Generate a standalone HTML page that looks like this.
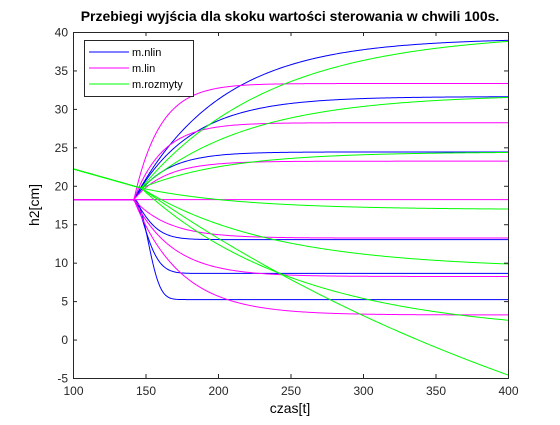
<!DOCTYPE html>
<html><head><meta charset="utf-8"><style>
body{margin:0;background:#fff;font-family:"Liberation Sans",sans-serif}
svg text{font-family:"Liberation Sans",sans-serif}
</style></head><body>
<svg id="chart" width="560" height="420">
<rect x="0" y="0" width="560" height="420" fill="#fff"/>
<g id="plot"></g>
<text x="290" y="21" text-anchor="middle" font-size="14" font-weight="bold">Przebiegi wyjścia dla skoku wartości sterowania w chwili 100s.</text>
<text x="290" y="413" text-anchor="middle" font-size="14">czas[t]</text>
<text x="39" y="205" text-anchor="middle" font-size="14" transform="rotate(-90 39 205)">h2[cm]</text>
<g>
<rect x="84.5" y="40.5" width="109" height="56" fill="#fff" stroke="#262626"/>
<line x1="89" y1="52" x2="129" y2="52" stroke="#0000ff"/>
<text x="132" y="56" font-size="11">m.nlin</text>
<line x1="89" y1="68" x2="129" y2="68" stroke="#ff00ff"/>
<text x="132" y="72" font-size="11">m.lin</text>
<line x1="89" y1="84" x2="129" y2="84" stroke="#00ff00"/>
<text x="132" y="88" font-size="11">m.rozmyty</text>
</g>
</svg>
<script>
const xTicks=[100,150,200,250,300,350,400];
const yTicks=[-5,0,5,10,15,20,25,30,35,40];
const start=18.2;
const nlinFinal=[39.2,31.6,24.4,13.0,8.6,5.2];
const nlinTau=[60,40,22,13,12,13];
const nlinShape=[1,1,1,1.3,1.6,2.2];
const linFinal=[33.3,28.2,23.2,18.2,13.2,8.2,3.2];
const linTau=[18,20,22,10,24,27,32];
const fuzzyPre=[22.2,19.7];
const fuzzyFinal=[40.0,31.9,24.4,16.9,9.2,0.6,-30.3];
const fuzzyTau=[90,75,60,70,90,110,380];
const xmin=100,xmax=400,ymin=-5,ymax=40;
const L=73,R=508,T=32,B=378;
const sx=v=>L+(v-xmin)/(xmax-xmin)*(R-L);
const sy=v=>B-(v-ymin)/(ymax-ymin)*(B-T);
const g=document.getElementById('plot');
const NS='http://www.w3.org/2000/svg';
function mk(t,a){const e=document.createElementNS(NS,t);for(const k in a)e.setAttribute(k,a[k]);g.appendChild(e);return e;}
function curve(y0,F,tau,p,t0,col,name){
  let d='M'+sx(100)+','+sy(y0)+' L'+sx(t0)+','+sy(y0);
  for(let t=t0;t<=400;t+=1){const u=(t-t0)/tau;const y=y0+(F-y0)*(1-Math.exp(-Math.pow(u,p)));d+=' L'+sx(t).toFixed(2)+','+sy(y).toFixed(2);}
  const e=mk('path',{d:d,fill:'none',stroke:col,'stroke-width':1});
  
  
}
nlinFinal.forEach((F,i)=>curve(start,F,nlinTau[i],nlinShape[i],142,'#0000ff','nlin-line-'+i));
linFinal.forEach((F,i)=>curve(start,F,linTau[i],1,142,'#ff00ff','lin-line-'+i));
fuzzyFinal.forEach((F,i)=>{
  let d='M'+sx(100)+','+sy(fuzzyPre[0])+' L'+sx(147)+','+sy(fuzzyPre[1]);
  for(let t=147;t<=400;t+=1){const y=fuzzyPre[1]+(F-fuzzyPre[1])*(1-Math.exp(-(t-147)/fuzzyTau[i]));d+=' L'+sx(t).toFixed(2)+','+sy(y).toFixed(2);}
  const e=mk('path',{d:d,fill:'none',stroke:'#00ff00','stroke-width':1});
  
  
});
const box=mk('rect',{x:L+.5,y:T+.5,width:R-L,height:B-T,fill:'none',stroke:'#262626'});


xTicks.forEach(v=>{const x=sx(v)+.5;
  mk('line',{x1:x,y1:B,x2:x,y2:B-4,stroke:'#262626'});mk('line',{x1:x,y1:T,x2:x,y2:T+4,stroke:'#262626'});
  const t=mk('text',{x:x,y:B+17,'text-anchor':'middle','font-size':12,fill:'#262626'});t.textContent=v;
  
  });
yTicks.forEach(v=>{const y=sy(v)+.5;
  mk('line',{x1:L,y1:y,x2:L+4,y2:y,stroke:'#262626'});mk('line',{x1:R,y1:y,x2:R-4,y2:y,stroke:'#262626'});
  const t=mk('text',{x:L-5,y:y+4,'text-anchor':'end','font-size':12,fill:'#262626'});t.textContent=v;
  
  });
</script>
</body></html>
